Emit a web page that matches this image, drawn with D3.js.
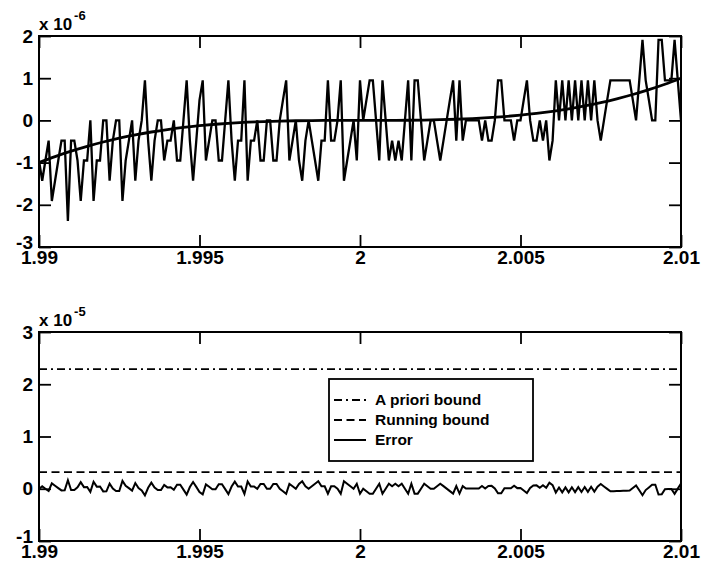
<!DOCTYPE html>
<html>
<head>
<meta charset="utf-8">
<script src="https://cdn.jsdelivr.net/npm/d3@7"></script>
<style>
  html, body { margin: 0; padding: 0; background: #fff; }
  svg { display: block; }
  text { font-family: "Liberation Sans", Arial, Helvetica, sans-serif; fill: #000; }
</style>
</head>
<body>
<svg id="chart" width="701" height="570"></svg>
<script>
// ---------------- DATA ----------------
// x sampling grid: 201 points from 1.99 to 2.01
const xFirst = 1.99, xLast = 2.01, sampleCount = 201;

// Computed polynomial values (units of 1e-6)
const computedValues = [
  -0.95,-1.43,-0.95,-0.48,-1.91,-1.43,-0.95,-0.48,-0.48,-2.38,
  -0.48,-0.48,-0.95,-1.91,-0.95,-0.95,0,-1.91,-0.95,-0.95,
  0,0,-1.43,-0.48,0,0,-1.91,-0.95,-0.48,0,
  -1.43,-0.48,0,0.95,-0.48,-1.43,-0.48,0,0,-0.95,
  -0.48,-0.48,0,-0.95,-0.95,0,0.95,-0.48,-1.43,-0.48,
  0.48,0.95,-0.95,-0.48,0,0,-0.95,-0.95,0,0.95,
  -0.48,-1.43,-0.48,-0.48,0.95,-1.43,-0.48,-0.48,0,-0.95,
  -0.95,0,0,-0.95,-0.95,0,0.48,0.95,-0.95,-0.48,
  0,-0.95,-1.43,-0.48,0,-0.48,-0.95,-1.43,-0.48,-0.48,
  0.95,-0.48,-0.48,0,0.95,-1.43,-0.95,-0.48,0,-0.95,
  0.95,0,0.48,0.95,0.95,0,-0.95,0.95,0,-0.95,
  -0.48,-0.95,-0.48,-0.95,0,0.95,-0.95,0.95,0.95,0,
  -0.95,-0.48,0,0,-0.48,-0.95,-0.48,0,0.48,0.95,
  -0.48,0.95,-0.48,0,0,0,0,0,-0.48,0,
  -0.48,-0.48,0,0.95,0.95,0,0,0,-0.48,0,
  0,0.48,0.95,0,-0.48,-0.48,0,-0.48,0,-0.95,
  -0.48,0.95,0,0.95,0,0.95,0,0.95,0,0.95,
  0,0.95,0,0.95,0,-0.48,0,0.48,0.95,0.95,
  0.95,0.95,0.95,0.95,0.95,0.48,0,0.95,1.91,0.95,
  0.48,0,0,1.91,1.91,0.95,0.95,0.95,1.91,0.95,
  0
];

// Exact polynomial curve (units of 1e-6), read at 41 points from 1.99 to 2.01
const exactValues = [
  -1.000,-0.857,-0.729,-0.614,-0.512,-0.422,-0.343,-0.275,-0.216,-0.166,
  -0.125,-0.091,-0.064,-0.043,-0.027,-0.016,-0.008,-0.003,-0.001,0.000,
  0.000,0.000,0.001,0.003,0.008,0.016,0.027,0.043,0.064,0.091,
  0.125,0.166,0.216,0.275,0.343,0.422,0.512,0.614,0.729,0.857,
  1.000
];

// Error (units of 1e-5), bottom panel
const errorValues = [
  -0.005,0.046,0.001,-0.043,0.103,0.057,0.012,-0.032,-0.030,0.163,
  -0.025,-0.023,0.027,0.125,0.031,0.034,-0.059,0.134,0.040,0.042,
  -0.051,-0.049,0.096,0.002,-0.044,-0.042,0.151,0.056,0.011,-0.036,
  0.109,0.015,-0.031,-0.125,0.019,0.116,0.022,-0.025,-0.024,0.072,
  0.026,0.028,-0.020,0.077,0.077,-0.017,-0.111,0.033,0.129,0.035,
  -0.061,-0.107,0.084,0.038,-0.010,-0.009,0.087,0.087,-0.007,-0.102,
  0.042,0.137,0.043,0.043,-0.100,0.139,0.044,0.044,-0.003,0.092,
  0.092,-0.002,-0.002,0.093,0.093,-0.002,-0.049,-0.096,0.094,0.047,
  -0.001,0.094,0.142,0.048,0.000,0.048,0.095,0.143,0.048,0.048,
  -0.095,0.048,0.048,0.000,-0.095,0.143,0.095,0.048,0.000,0.095,
  -0.095,0.000,-0.048,-0.095,-0.095,0.000,0.095,-0.095,0.000,0.095,
  0.048,0.095,0.048,0.095,0.000,-0.095,0.095,-0.094,-0.094,0.001,
  0.096,0.049,0.001,0.001,0.049,0.097,0.050,0.002,-0.046,-0.093,
  0.051,-0.092,0.051,0.004,0.004,0.004,0.005,0.005,0.054,0.006,
  0.054,0.055,0.007,-0.087,-0.087,0.009,0.010,0.010,0.059,0.012,
  0.013,-0.035,-0.081,0.015,0.064,0.065,0.018,0.067,0.020,0.116,
  0.070,-0.072,0.024,-0.070,0.026,-0.068,0.029,-0.065,0.031,-0.062,
  0.034,-0.059,0.037,-0.056,0.041,0.090,0.044,-0.002,-0.048,-0.046,
  -0.044,-0.042,-0.040,-0.038,-0.036,0.013,0.064,-0.029,-0.123,-0.025,
  0.025,0.075,0.078,-0.111,-0.108,-0.009,-0.007,-0.004,-0.097,0.002,
  0.100
];

const aPrioriBound = [2.29, 2.29];   // units of 1e-5, at xFirst and xLast
const runningBound = [0.32, 0.32];   // units of 1e-5

const xTicks = [1.99, 1.995, 2, 2.005, 2.01];
const xTickLabels = ["1.99", "1.995", "2", "2.005", "2.01"];
const topYTicks = [-3, -2, -1, 0, 1, 2];
const bottomYTicks = [-1, 0, 1, 2, 3];
const topExponent = "-6";
const bottomExponent = "-5";
const legendLabels = ["A priori bound", "Running bound", "Error"];

// ---------------- DRAWING ----------------
const svg = d3.select("#chart");
const sampleX = d3.range(sampleCount).map(i => xFirst + (xLast - xFirst) * i / (sampleCount - 1));
const exactX = d3.range(exactValues.length).map(i => xFirst + (xLast - xFirst) * i / (exactValues.length - 1));

const left = 39, right = 681;
const FONT = 19;
const FF = '"Liberation Sans", Arial, sans-serif';

function panel(top, bottom, yDomain, yTicks, exponent) {
  const x = d3.scaleLinear().domain([xFirst, xLast]).range([left, right]);
  const y = d3.scaleLinear().domain(yDomain).range([bottom, top]);
  const g = svg.append("g");
  const T = 12;

  const gb = g.append("g").attr("transform", `translate(0,${bottom})`)
    .call(d3.axisBottom(x).tickValues(xTicks).tickSizeInner(-T).tickSizeOuter(0).tickPadding(4)
      .tickFormat((d, i) => xTickLabels[i]));
  const gt = g.append("g").attr("transform", `translate(0,${top})`)
    .call(d3.axisTop(x).tickValues(xTicks).tickSizeInner(-T).tickSizeOuter(0).tickFormat(""));
  const gl = g.append("g").attr("transform", `translate(${left},0)`)
    .call(d3.axisLeft(y).tickValues(yTicks).tickSizeInner(-T).tickSizeOuter(0).tickPadding(6)
      .tickFormat(d3.format("d")));
  const gr = g.append("g").attr("transform", `translate(${right},0)`)
    .call(d3.axisRight(y).tickValues(yTicks).tickSizeInner(-T).tickSizeOuter(0).tickFormat(""));
  [gb, gt, gl, gr].forEach(a => {
    a.select(".domain").remove();
    a.selectAll("line").attr("stroke", "#000").attr("stroke-width", 1.8);
    a.selectAll("text").style("font-family", FF).attr("font-weight", "bold")
      .attr("font-size", FONT).attr("fill", "#000");
  });
  gl.selectAll("text").text(d => d < 0 ? "-" + Math.abs(d) : String(d))
    .attr("y", d => d === yDomain[0] ? -5 : 0);

  g.append("rect").attr("x", left).attr("y", top).attr("width", right - left).attr("height", bottom - top)
    .attr("fill", "none").attr("stroke", "#000").attr("stroke-width", 2);

  const lab = g.append("text").attr("x", left).attr("y", top - 6).attr("font-size", 17)
    .attr("font-weight", "bold");
  lab.append("tspan").text("x 10");
  lab.append("tspan").attr("dy", -10).attr("dx", 2).attr("font-size", 13).text(exponent);
  return { g, x, y };
}

// Top panel
const P1 = panel(36, 247, [-3, 2], topYTicks, topExponent);
svg.append("clipPath").attr("id", "c1").append("rect")
  .attr("x", left).attr("y", 36).attr("width", right - left).attr("height", 211);
const line1 = d3.line().x((d, i) => P1.x(sampleX[i])).y(d => P1.y(d));
P1.g.append("path").datum(computedValues).attr("d", line1).attr("fill", "none")
  .attr("stroke", "#000").attr("stroke-width", 2.3).attr("stroke-linejoin", "miter")
  .attr("clip-path", "url(#c1)");
const lineE = d3.line().x((d, i) => P1.x(exactX[i])).y(d => P1.y(d)).curve(d3.curveMonotoneX);
P1.g.append("path").datum(exactValues).attr("d", lineE).attr("fill", "none")
  .attr("stroke", "#000").attr("stroke-width", 2.8);

// Bottom panel
const P2 = panel(332, 541, [-1, 3], bottomYTicks, bottomExponent);
const boundX = [xFirst, xLast];
const lineB = d3.line().x((d, i) => P2.x(boundX[i])).y(d => P2.y(d));
const DASHDOT = "8,4,2,4", DASH = "8,4.5";
P2.g.append("path").datum(aPrioriBound).attr("d", lineB).attr("fill", "none")
  .attr("stroke", "#000").attr("stroke-width", 1.8).attr("stroke-dasharray", DASHDOT);
P2.g.append("path").datum(runningBound).attr("d", lineB).attr("fill", "none")
  .attr("stroke", "#000").attr("stroke-width", 1.8).attr("stroke-dasharray", DASH);
const line2 = d3.line().x((d, i) => P2.x(sampleX[i])).y(d => P2.y(d));
P2.g.append("path").datum(errorValues).attr("d", line2).attr("fill", "none")
  .attr("stroke", "#000").attr("stroke-width", 2);

// Legend
const lg = svg.append("g");
lg.append("rect").attr("x", 329).attr("y", 379).attr("width", 204).attr("height", 82)
  .attr("fill", "#fff").attr("stroke", "#000").attr("stroke-width", 1.8);
const styles = [DASHDOT, DASH, null];
legendLabels.forEach((t, i) => {
  const yy = 400 + i * 20;
  const l = lg.append("line").attr("x1", 334).attr("x2", 366).attr("y1", yy).attr("y2", yy)
    .attr("stroke", "#000").attr("stroke-width", i === 2 ? 2 : 1.8);
  if (styles[i]) l.attr("stroke-dasharray", styles[i]);
  lg.append("text").attr("x", 375).attr("y", yy).attr("dy", "0.35em").attr("font-size", 15.5)
    .attr("font-weight", "bold").text(t);
});
</script>
</body>
</html>
